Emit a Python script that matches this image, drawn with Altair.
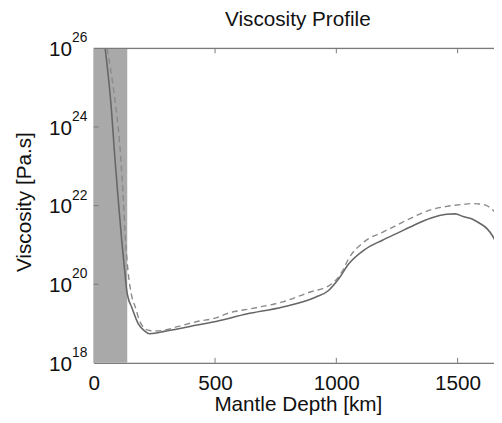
import altair as alt
import pandas as pd

# ---- data (depth in km, viscosity as log10 Pa.s) ----
solid_km = [47, 70, 88, 101, 115, 131, 135, 142, 156, 183, 210, 230, 260, 291, 345, 426, 508, 630, 779, 914, 968, 1009, 1049, 1117, 1190, 1252, 1320, 1388, 1455, 1490, 1523, 1560, 1591, 1620, 1645, 1660]
solid_log = [26, 24.65, 23.14, 22.14, 21.13, 20.13, 19.88, 19.65, 19.42, 19.0, 18.81, 18.74, 18.76, 18.8, 18.86, 18.96, 19.06, 19.24, 19.42, 19.67, 19.84, 20.13, 20.5, 20.88, 21.12, 21.30, 21.5, 21.68, 21.78, 21.79, 21.72, 21.66, 21.55, 21.42, 21.22, 21.05]
dashed_km = [55, 68, 88, 106, 112, 122, 131, 145, 149, 160, 169, 190, 223, 250, 291, 345, 426, 508, 548, 650, 779, 914, 941, 1022, 1049, 1117, 1190, 1252, 1320, 1388, 1455, 1523, 1560, 1591, 1620, 1645, 1660]
dashed_log = [26, 25.52, 24.65, 23.64, 23.14, 22.14, 21.13, 20.13, 19.96, 19.6, 19.46, 19.05, 18.83, 18.81, 18.83, 18.92, 19.05, 19.15, 19.25, 19.38, 19.55, 19.84, 19.88, 20.3, 20.63, 21.09, 21.32, 21.51, 21.72, 21.89, 21.98, 22.03, 22.05, 22.04, 22.0, 21.89, 21.8]

band_start = [0]
band_end = [138]

x_ticks = [0, 500, 1000, 1500]
y_exps = [18, 20, 22, 24, 26]

X_DOMAIN = [0, 1650]
Y_DOMAIN = [18, 26]
W, H = 406, 319
FONT = "Liberation Sans"

xs = alt.Scale(domain=X_DOMAIN, nice=False, zero=False)
ys = alt.Scale(domain=Y_DOMAIN, nice=False, zero=False)

solid_df = pd.DataFrame({"km": solid_km, "v": solid_log})
dashed_df = pd.DataFrame({"km": dashed_km, "v": dashed_log})
band_df = pd.DataFrame({"a": band_start, "b": band_end})
xt_df = pd.DataFrame({"t": x_ticks[1:]})
yt_df = pd.DataFrame({"e": y_exps, "base": ["10"] * len(y_exps), "sup": [str(e) for e in y_exps]})
yt_in = pd.DataFrame({"e": [20, 22, 24]})

band = alt.Chart(band_df).mark_rect(color="#a9a9a9").encode(
    x=alt.X("a:Q", scale=xs, title="Mantle Depth [km]",
            axis=alt.Axis(values=x_ticks, format="d", ticks=False, tickSize=0, grid=False, domain=True,
                          domainColor="#7a7a7a", domainWidth=1.2, labelFont=FONT, labelFontSize=21,
                          labelColor="#111", labelPadding=10, labelFlush=False,
                          titleFont=FONT, titleFontSize=21, titleFontWeight="normal",
                          titleColor="#111", titlePadding=0, titleX=W / 2 + 4)),
    x2="b:Q",
    y=alt.value(0),
    y2=alt.value(H),
)

yaxis_holder = alt.Chart(solid_df).mark_line(opacity=0).encode(
    x=alt.X("km:Q", scale=xs),
    y=alt.Y("v:Q", scale=ys, title="Viscosity [Pa.s]",
            axis=alt.Axis(labels=False, ticks=False, tickSize=0, grid=False, domain=True,
                          domainColor="#7a7a7a", domainWidth=1.2,
                          titleFont=FONT, titleFontSize=21, titleFontWeight="normal",
                          titleColor="#111", titleX=-70, titleY=H / 2 - 4, titleAngle=270,
                          titleAlign="center", titleBaseline="middle")),
)

solid = alt.Chart(solid_df).mark_line(color="#666666", strokeWidth=1.6, interpolate="monotone", clip=True).encode(
    x=alt.X("km:Q", scale=xs), y=alt.Y("v:Q", scale=ys)
)
dashed = alt.Chart(dashed_df).mark_line(color="#8a8a8a", strokeWidth=1.4, strokeDash=[6, 4],
                                         interpolate="monotone", clip=True).encode(
    x=alt.X("km:Q", scale=xs), y=alt.Y("v:Q", scale=ys)
)

top_line = alt.Chart(band_df).mark_rule(color="#7a7a7a", strokeWidth=1.2).encode(
    x=alt.value(0), x2=alt.value(W), y=alt.value(0)
)

bottom_ticks = alt.Chart(xt_df).mark_rule(color="#7a7a7a").encode(
    x=alt.X("t:Q", scale=xs), y=alt.value(H), y2=alt.value(H - 5)
)
top_ticks = alt.Chart(xt_df).mark_rule(color="#7a7a7a").encode(
    x=alt.X("t:Q", scale=xs), y=alt.value(0), y2=alt.value(5)
)
left_ticks = alt.Chart(yt_in).mark_rule(color="#7a7a7a").encode(
    y=alt.Y("e:Q", scale=ys), x=alt.value(0), x2=alt.value(5)
)

ylab = alt.Chart(yt_df).mark_text(font=FONT, fontSize=21, align="right", baseline="middle",
                                   dy=2, color="#111").encode(
    y=alt.Y("e:Q", scale=ys), x=alt.value(-22), text="base:N"
)
ysup = alt.Chart(yt_df).mark_text(font=FONT, fontSize=14, align="left", baseline="middle",
                                   dy=-10, color="#111").encode(
    y=alt.Y("e:Q", scale=ys), x=alt.value(-22), text="sup:N"
)

chart = alt.layer(
    band, yaxis_holder, solid, dashed, top_line, bottom_ticks, top_ticks, left_ticks, ylab, ysup
).properties(
    width=W, height=H,
    title=alt.TitleParams("Viscosity Profile", font=FONT, fontSize=21, fontWeight="normal",
                          color="#111", offset=2, dx=4),
    autosize=alt.AutoSizeParams(type="none"),
    padding={"left": 87, "top": 38, "right": 0, "bottom": 50},
).configure_view(stroke=None).configure(background="white")

chart.save("out.html", embed_options={"renderer": "svg", "actions": False})
